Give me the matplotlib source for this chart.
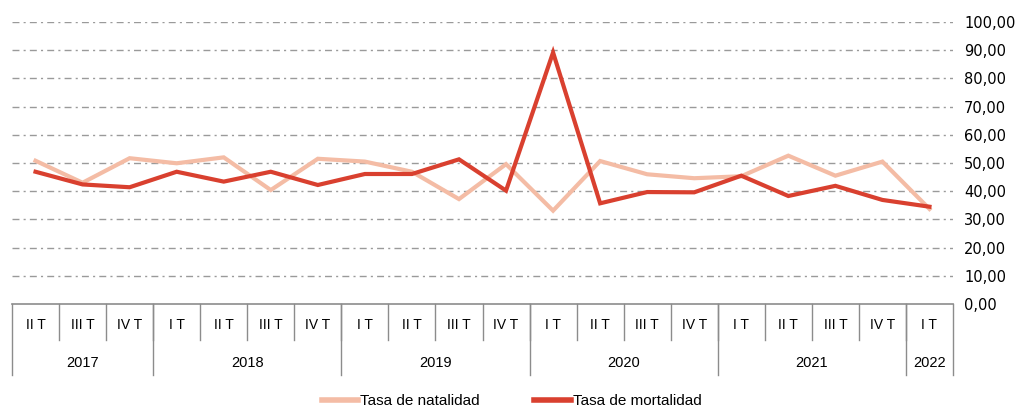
import matplotlib.pyplot as plt
import numpy as np
from matplotlib import font_manager
from matplotlib.transforms import blended_transform_factory

# Quarter / year labels of the category axis
quarters = ["II T", "III T", "IV T",
            "I T", "II T", "III T", "IV T",
            "I T", "II T", "III T", "IV T",
            "I T", "II T", "III T", "IV T",
            "I T", "II T", "III T", "IV T",
            "I T"]
years = ["2017", "2018", "2019", "2020", "2021", "2022"]
quarters_per_year = [3, 4, 4, 4, 4, 1]

natalidad = [50.8, 43.0, 51.7, 49.9, 52.0, 40.4, 51.5, 50.5, 46.9, 37.2,
             49.6, 33.1, 50.7, 46.0, 44.6, 45.3, 52.6, 45.5, 50.5, 33.7]
mortalidad = [46.9, 42.4, 41.4, 46.9, 43.4, 46.9, 42.2, 46.1, 46.1, 51.3,
              40.2, 89.2, 35.7, 39.7, 39.6, 45.5, 38.3, 41.9, 36.9, 34.5]

names = {f.name for f in font_manager.fontManager.ttflist}
narrow = "Liberation Sans Narrow" if "Liberation Sans Narrow" in names else "Liberation Sans"

fig = plt.figure(figsize=(10.23, 4.18), dpi=100)
ax = fig.add_axes([12 / 1023, (418 - 304) / 418, 941 / 1023, 282 / 418])

x = np.arange(len(quarters))
ax.plot(x, natalidad, color="#F4BCA5", lw=3, label="Tasa de natalidad",
        solid_joinstyle="miter", clip_on=False)
ax.plot(x, mortalidad, color="#D9402F", lw=3, label="Tasa de mortalidad",
        solid_joinstyle="miter", clip_on=False)

ax.set_xlim(-0.5, len(quarters) - 0.5)
ax.set_ylim(0, 100)
ax.set_yticks(np.arange(0, 101, 10))
ax.set_yticklabels([f"{v:.2f}".replace(".", ",") for v in np.arange(0, 101, 10)],
                   fontsize=10.5, family="DejaVu Sans")
ax.yaxis.tick_right()
ax.tick_params(axis="y", length=0, pad=8)
ax.set_xticks([])
for v in range(10, 101, 10):
    ax.axhline(v, color="#9a9a9a", lw=1, ls=(0, (5, 3, 1.5, 3)), zorder=0)

for s in ["top", "left", "right"]:
    ax.spines[s].set_visible(False)
ax.spines["bottom"].set_color("#8c8c8c")
ax.spines["bottom"].set_linewidth(1.2)

# multi-level category axis
trans = blended_transform_factory(ax.transData, ax.transAxes)
q_bot = -36 / 282
y_bot = -71 / 282
for i, q in enumerate(quarters):
    ax.text(i, -21 / 282, q, transform=trans, ha="center", va="center",
            fontsize=10, family=narrow)
for i in range(1, len(quarters)):
    ax.plot([i - 0.5, i - 0.5], [0, q_bot], transform=trans, color="#8c8c8c",
            lw=1, clip_on=False)

start = 0
edges = [0]
for yr, n in zip(years, quarters_per_year):
    ax.text(start + n / 2 - 0.5, -59 / 282, yr, transform=trans, ha="center",
            va="center", fontsize=10.5, family=narrow)
    start += n
    edges.append(start)
for e in edges:
    ax.plot([e - 0.5, e - 0.5], [0, y_bot], transform=trans, color="#8c8c8c",
            lw=1, clip_on=False)

leg = fig.legend(loc="lower center", bbox_to_anchor=(0.5, -0.01), ncol=2,
                 frameon=False, handlelength=2.4, handletextpad=0.1,
                 columnspacing=3.6, prop={"family": narrow, "size": 11})
for line in leg.get_lines():
    line.set_linewidth(4)

fig.savefig("out.png", dpi=100)
